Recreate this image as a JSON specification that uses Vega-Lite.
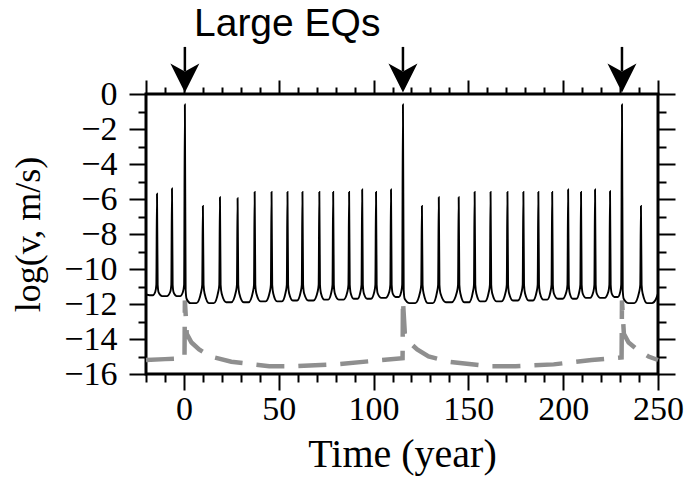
{
  "$schema": "https://vega.github.io/schema/vega-lite/v6.json",
  "width": 512,
  "height": 280,
  "autosize": {"type": "none"},
  "padding": {"left": 146, "top": 94, "right": 29, "bottom": 108},
  "background": "white",
  "title": {"text": "Large EQs", "anchor": "start", "frame": "group", "dx": 48, "offset": 2, "font": "Liberation Sans", "fontSize": 39, "fontWeight": "normal", "color": "black"},
  "datasets": {
    "gray": [
      {"t": -20, "v": -15.2}, {"t": -10, "v": -15.15}, {"t": 0.3, "v": -15.1}, {"t": 0.5, "v": -11.8}, {"t": 1.5, "v": -13.7}, {"t": 4, "v": -14.2}, {"t": 8, "v": -14.6}, {"t": 14, "v": -15.0}, {"t": 25, "v": -15.3}, {"t": 45, "v": -15.55}, {"t": 60, "v": -15.55}, {"t": 80, "v": -15.45}, {"t": 100, "v": -15.25}, {"t": 115.3, "v": -15.1},
      {"t": 115.5, "v": -11.8}, {"t": 116.5, "v": -13.7}, {"t": 119, "v": -14.2}, {"t": 123, "v": -14.6}, {"t": 129, "v": -15.0}, {"t": 140, "v": -15.3}, {"t": 160, "v": -15.55}, {"t": 175, "v": -15.55}, {"t": 195, "v": -15.45}, {"t": 215, "v": -15.2}, {"t": 230.8, "v": -15.05},
      {"t": 231, "v": -11.8}, {"t": 232, "v": -13.7}, {"t": 234.5, "v": -14.2}, {"t": 239, "v": -14.6}, {"t": 245, "v": -15.0}, {"t": 250, "v": -15.2}
    ],
    "vel": [
      {"t": -20, "v": -11.45}, {"t": -18, "v": -11.5}, {"t": -16.4, "v": -11.5},
      {"t": -15.1, "v": -11.3}, {"t": -14.55, "v": -10.9}, {"t": -14.2, "v": -5.7}, {"t": -13.85, "v": -10.9}, {"t": -13.3, "v": -11.35}, {"t": -11.5, "v": -11.55}, {"t": -9.0, "v": -11.55},
      {"t": -7.2, "v": -11.3}, {"t": -6.65, "v": -10.9}, {"t": -6.3, "v": -5.4}, {"t": -5.95, "v": -10.9}, {"t": -5.4, "v": -11.35}, {"t": -3.8, "v": -11.55}, {"t": -2.0, "v": -11.55},
      {"t": -0.5, "v": -11.3}, {"t": 0.1, "v": -10.9}, {"t": 0.5, "v": -0.6}, {"t": 0.9, "v": -11.2}, {"t": 1.4, "v": -11.7}, {"t": 3.5, "v": -11.95}, {"t": 6.6, "v": -11.95},
      {"t": 9.1, "v": -11.3}, {"t": 9.65, "v": -10.9}, {"t": 10, "v": -6.4}, {"t": 10.35, "v": -10.9}, {"t": 10.9, "v": -11.4}, {"t": 13.2, "v": -11.95}, {"t": 15.8, "v": -11.95},
      {"t": 18.1, "v": -11.3}, {"t": 18.65, "v": -10.9}, {"t": 19, "v": -5.9}, {"t": 19.35, "v": -10.9}, {"t": 19.9, "v": -11.4}, {"t": 22.3, "v": -11.9}, {"t": 25.0, "v": -11.9},
      {"t": 27.4, "v": -11.3}, {"t": 27.95, "v": -10.9}, {"t": 28.3, "v": -5.95}, {"t": 28.65, "v": -10.9}, {"t": 29.2, "v": -11.4}, {"t": 31.5, "v": -11.9}, {"t": 34.1, "v": -11.9},
      {"t": 36.4, "v": -11.3}, {"t": 36.95, "v": -10.9}, {"t": 37.3, "v": -5.6}, {"t": 37.65, "v": -10.9}, {"t": 38.2, "v": -11.4}, {"t": 40.4, "v": -11.85}, {"t": 43.1, "v": -11.85},
      {"t": 45.3, "v": -11.3}, {"t": 45.85, "v": -10.9}, {"t": 46.2, "v": -5.6}, {"t": 46.55, "v": -10.9}, {"t": 47.1, "v": -11.4}, {"t": 49.1, "v": -11.85}, {"t": 51.7, "v": -11.85},
      {"t": 53.7, "v": -11.3}, {"t": 54.25, "v": -10.9}, {"t": 54.6, "v": -5.6}, {"t": 54.95, "v": -10.9}, {"t": 55.5, "v": -11.4}, {"t": 57.4, "v": -11.8}, {"t": 59.7, "v": -11.8},
      {"t": 61.6, "v": -11.3}, {"t": 62.15, "v": -10.9}, {"t": 62.5, "v": -5.6}, {"t": 62.85, "v": -10.9}, {"t": 63.4, "v": -11.4}, {"t": 65.6, "v": -11.8}, {"t": 68.3, "v": -11.8},
      {"t": 70.5, "v": -11.3}, {"t": 71.05, "v": -10.9}, {"t": 71.4, "v": -5.6}, {"t": 71.75, "v": -10.9}, {"t": 72.3, "v": -11.4}, {"t": 74.0, "v": -11.75}, {"t": 76.1, "v": -11.75},
      {"t": 77.8, "v": -11.3}, {"t": 78.35, "v": -10.9}, {"t": 78.7, "v": -5.6}, {"t": 79.05, "v": -10.9}, {"t": 79.6, "v": -11.4}, {"t": 81.6, "v": -11.75}, {"t": 84.2, "v": -11.75},
      {"t": 86.2, "v": -11.3}, {"t": 86.75, "v": -10.9}, {"t": 87.1, "v": -5.6}, {"t": 87.45, "v": -10.9}, {"t": 88.0, "v": -11.4}, {"t": 89.5, "v": -11.7}, {"t": 91.6, "v": -11.7},
      {"t": 93.1, "v": -11.3}, {"t": 93.65, "v": -10.9}, {"t": 94, "v": -5.45}, {"t": 94.35, "v": -10.9}, {"t": 94.9, "v": -11.4}, {"t": 96.6, "v": -11.7}, {"t": 98.7, "v": -11.7},
      {"t": 100.4, "v": -11.3}, {"t": 100.95, "v": -10.9}, {"t": 101.3, "v": -5.6}, {"t": 101.65, "v": -10.9}, {"t": 102.2, "v": -11.4}, {"t": 104.1, "v": -11.65}, {"t": 106.4, "v": -11.65},
      {"t": 108.3, "v": -11.3}, {"t": 108.85, "v": -10.9}, {"t": 109.2, "v": -5.45}, {"t": 109.55, "v": -10.9}, {"t": 110.1, "v": -11.4}, {"t": 111.6, "v": -11.6}, {"t": 113.3, "v": -11.6},
      {"t": 114.6, "v": -11.3}, {"t": 115.1, "v": -10.9}, {"t": 115.5, "v": -0.6}, {"t": 115.9, "v": -11.2}, {"t": 116.4, "v": -11.7}, {"t": 119, "v": -11.95}, {"t": 122, "v": -11.95},
      {"t": 124.6, "v": -11.3}, {"t": 125.15, "v": -10.9}, {"t": 125.5, "v": -6.4}, {"t": 125.85, "v": -10.9}, {"t": 126.4, "v": -11.4}, {"t": 128.6, "v": -11.95}, {"t": 131.3, "v": -11.95},
      {"t": 133.5, "v": -11.3}, {"t": 134.05, "v": -10.9}, {"t": 134.4, "v": -5.9}, {"t": 134.75, "v": -10.9}, {"t": 135.3, "v": -11.4}, {"t": 138.1, "v": -11.9}, {"t": 141.2, "v": -11.9},
      {"t": 144.0, "v": -11.3}, {"t": 144.55, "v": -10.9}, {"t": 144.9, "v": -5.9}, {"t": 145.25, "v": -10.9}, {"t": 145.8, "v": -11.4}, {"t": 147.8, "v": -11.9}, {"t": 150.4, "v": -11.9},
      {"t": 152.4, "v": -11.3}, {"t": 152.95, "v": -10.9}, {"t": 153.3, "v": -5.6}, {"t": 153.65, "v": -10.9}, {"t": 154.2, "v": -11.4}, {"t": 156.2, "v": -11.85}, {"t": 158.8, "v": -11.85},
      {"t": 160.8, "v": -11.3}, {"t": 161.35, "v": -10.9}, {"t": 161.7, "v": -5.6}, {"t": 162.05, "v": -10.9}, {"t": 162.6, "v": -11.4}, {"t": 164.8, "v": -11.85}, {"t": 167.5, "v": -11.85},
      {"t": 169.7, "v": -11.3}, {"t": 170.25, "v": -10.9}, {"t": 170.6, "v": -5.6}, {"t": 170.95, "v": -10.9}, {"t": 171.5, "v": -11.4}, {"t": 173.5, "v": -11.8}, {"t": 176.1, "v": -11.8},
      {"t": 178.1, "v": -11.3}, {"t": 178.65, "v": -10.9}, {"t": 179, "v": -5.6}, {"t": 179.35, "v": -10.9}, {"t": 179.9, "v": -11.4}, {"t": 181.8, "v": -11.8}, {"t": 184.1, "v": -11.8},
      {"t": 186.0, "v": -11.3}, {"t": 186.55, "v": -10.9}, {"t": 186.9, "v": -5.6}, {"t": 187.25, "v": -10.9}, {"t": 187.8, "v": -11.4}, {"t": 189.5, "v": -11.75}, {"t": 191.6, "v": -11.75},
      {"t": 193.3, "v": -11.3}, {"t": 193.85, "v": -10.9}, {"t": 194.2, "v": -5.6}, {"t": 194.55, "v": -10.9}, {"t": 195.1, "v": -11.4}, {"t": 197.1, "v": -11.7}, {"t": 199.7, "v": -11.7},
      {"t": 201.7, "v": -11.3}, {"t": 202.25, "v": -10.9}, {"t": 202.6, "v": -5.45}, {"t": 202.95, "v": -10.9}, {"t": 203.5, "v": -11.4}, {"t": 205.0, "v": -11.7}, {"t": 207.0, "v": -11.7},
      {"t": 208.5, "v": -11.3}, {"t": 209.05, "v": -10.9}, {"t": 209.4, "v": -5.6}, {"t": 209.75, "v": -10.9}, {"t": 210.3, "v": -11.4}, {"t": 212.0, "v": -11.65}, {"t": 214.2, "v": -11.65},
      {"t": 215.9, "v": -11.3}, {"t": 216.45, "v": -10.9}, {"t": 216.8, "v": -5.45}, {"t": 217.15, "v": -10.9}, {"t": 217.7, "v": -11.4}, {"t": 219.6, "v": -11.65}, {"t": 221.9, "v": -11.65},
      {"t": 223.8, "v": -11.3}, {"t": 224.35, "v": -10.9}, {"t": 224.7, "v": -5.55}, {"t": 225.05, "v": -10.9}, {"t": 225.6, "v": -11.4}, {"t": 227.0, "v": -11.6}, {"t": 228.8, "v": -11.6},
      {"t": 230.1, "v": -11.3}, {"t": 230.6, "v": -10.9}, {"t": 231, "v": -0.6}, {"t": 231.4, "v": -11.2}, {"t": 231.9, "v": -11.7}, {"t": 234.5, "v": -11.95}, {"t": 237.5, "v": -11.95},
      {"t": 240.1, "v": -11.3}, {"t": 240.65, "v": -10.9}, {"t": 241, "v": -6.4}, {"t": 241.35, "v": -10.9}, {"t": 241.9, "v": -11.4}, {"t": 244.2, "v": -11.95}, {"t": 246.8, "v": -11.95},
      {"t": 249, "v": -11.7}, {"t": 250, "v": -11.4}
    ],
    "eqs": [{"t": 0.5}, {"t": 115.5}, {"t": 231}]
  },
  "config": {
    "view": {"stroke": "black", "strokeWidth": 3},
    "axis": {
      "grid": false, "domain": false, "ticks": true, "tickColor": "black", "tickWidth": 2,
      "labelColor": "black", "titleColor": "black", "labelFont": "Liberation Serif", "titleFont": "Liberation Serif",
      "labelFontSize": 34, "titleFontSize": 39, "titleFontWeight": "normal",
      "labelOverlap": false, "labelFlush": false, "labelBound": false
    }
  },
  "resolve": {"axis": {"x": "independent", "y": "independent"}},
  "layer": [
    {
      "data": {"name": "gray"},
      "mark": {"type": "line", "color": "#8f8f8f", "strokeWidth": 4.5, "strokeDash": [28, 14]},
      "encoding": {
        "x": {"field": "t", "type": "quantitative", "scale": {"domain": [-20, 250], "nice": false, "zero": false},
              "axis": {"orient": "bottom", "values": [-20, -10, 10, 20, 30, 40, 60, 70, 80, 90, 110, 120, 130, 140, 160, 170, 180, 190, 210, 220, 230, 240], "tickSize": 8, "labels": false, "title": null}},
        "y": {"field": "v", "type": "quantitative", "scale": {"domain": [-16, 0], "nice": false, "zero": false},
              "axis": {"orient": "left", "values": [-15, -13, -11, -9, -7, -5, -3, -1], "tickSize": 8, "labels": false, "title": null}}
      }
    },
    {
      "data": {"name": "vel"},
      "mark": {"type": "line", "color": "black", "strokeWidth": 1.9, "interpolate": "monotone"},
      "encoding": {
        "x": {"field": "t", "type": "quantitative", "scale": {"domain": [-20, 250], "nice": false, "zero": false},
              "axis": {"orient": "bottom", "values": [0, 50, 100, 150, 200, 250], "tickSize": 16, "labelPadding": 2, "title": "Time (year)", "titlePadding": 8, "titleFontSize": 40}},
        "y": {"field": "v", "type": "quantitative", "scale": {"domain": [-16, 0], "nice": false, "zero": false},
              "axis": {"orient": "left", "values": [-16, -14, -12, -10, -8, -6, -4, -2, 0], "tickSize": 17, "labelPadding": 12, "title": "log(v, m/s)", "titlePadding": 16, "titleFontSize": 36}}
      }
    },
    {
      "data": {"name": "eqs"},
      "mark": {"type": "rule", "color": "black", "strokeWidth": 2.5},
      "encoding": {
        "x": {"field": "t", "type": "quantitative", "scale": {"domain": [-20, 250], "nice": false, "zero": false},
              "axis": {"orient": "top", "values": [-20, 0, 50, 100, 150, 200, 250], "tickSize": 14, "labels": false, "title": null}},
        "y": {"datum": 2.69, "type": "quantitative", "scale": {"domain": [-16, 0], "nice": false, "zero": false},
              "axis": {"orient": "right", "values": [-16, -14, -12, -10, -8, -6, -4, -2, 0], "tickSize": 17, "labels": false, "title": null}},
        "y2": {"datum": 1.3}
      }
    },
    {
      "data": {"name": "eqs"},
      "mark": {"type": "point", "shape": "M-1,-1L0,-0.45L1,-1L0,1Z", "filled": true, "color": "black", "opacity": 1, "size": 841},
      "encoding": {
        "x": {"field": "t", "type": "quantitative", "scale": {"domain": [-20, 250], "nice": false, "zero": false},
              "axis": {"orient": "top", "values": [-10, 10, 20, 30, 40, 60, 70, 80, 90, 110, 120, 130, 140, 160, 170, 180, 190, 210, 220, 230, 240], "tickSize": 7, "labels": false, "title": null}},
        "y": {"datum": 0.92, "type": "quantitative", "scale": {"domain": [-16, 0], "nice": false, "zero": false},
              "axis": {"orient": "right", "values": [-15, -13, -11, -9, -7, -5, -3, -1], "tickSize": 8, "labels": false, "title": null}}
      }
    }
  ]
}
